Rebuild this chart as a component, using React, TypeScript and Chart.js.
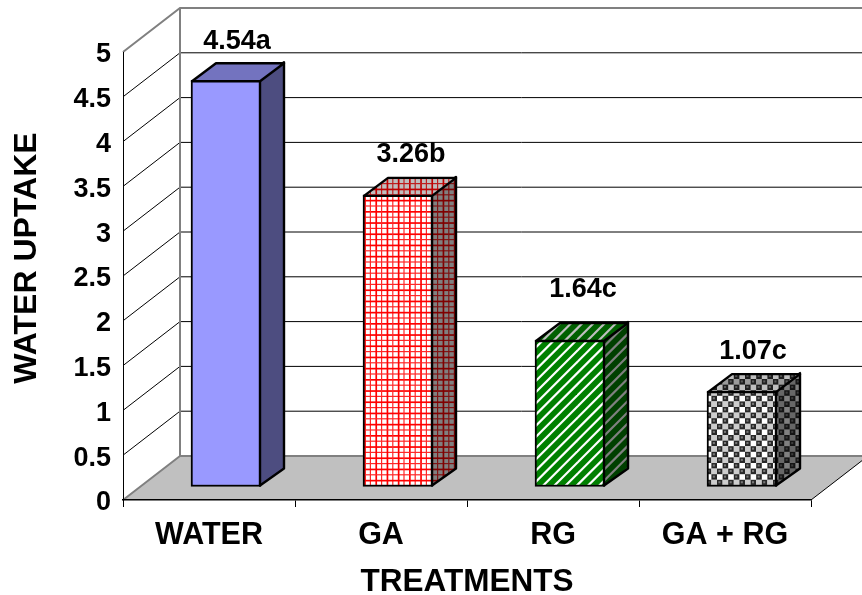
import React, { useEffect, useRef } from "react";
import { Chart, registerables } from "chart.js";

Chart.register(...registerables);

const categories = ["WATER", "GA", "RG", "GA + RG"];
const uptake = [4.54, 3.26, 1.64, 1.07];
const valueLabels = ["4.54a", "3.26b", "1.64c", "1.07c"];
const labelLift = [39, 40, 51, 40];
const labelShift = [11, 13, 13, 11];
const yTickValues = [0, 0.5, 1, 1.5, 2, 2.5, 3, 3.5, 4, 4.5, 5];

const FONT = '"Liberation Sans", Arial, sans-serif';

// Projection of the box: how far the back wall sits behind the front plane.
const WALL_DX = 57;
const WALL_DY = -44;
const BAR_INSET_X = 17;
const BAR_INSET_Y = -13;
const BAR_DX = 24;
const BAR_DY = -18;

type Rgb = [number, number, number];
const shade = (c: Rgb, k: number) =>
  `rgb(${Math.round(c[0] * k)},${Math.round(c[1] * k)},${Math.round(c[2] * k)})`;

// Fill tiles: an 8-unit cell enlarged 1.4 times, repeated 5 times so the tile is whole pixels.
const CELL = 8;
const CELL_SCALE = 1.4;
const CELL_REPEAT = 5;
const SPAN = CELL * CELL_REPEAT;

type Painter = (g: CanvasRenderingContext2D, k: number) => void;

const paintGrid: Painter = (g, k) => {
  g.fillStyle = shade([255, 255, 255], k);
  g.fillRect(0, 0, SPAN, SPAN);
  for (let i = 0; i < CELL_REPEAT; i++) {
    const p = i * CELL;
    g.fillStyle = shade([255, 40, 40], k);
    g.fillRect(p + 4, 0, 0.85, SPAN);
    g.fillRect(0, p + 4, SPAN, 0.85);
    g.fillStyle = shade([255, 0, 0], k);
    g.fillRect(p, 0, 1.2, SPAN);
    g.fillRect(0, p, SPAN, 1.2);
  }
};

const paintStripes: Painter = (g, k) => {
  g.fillStyle = shade([255, 255, 255], k);
  g.fillRect(0, 0, SPAN, SPAN);
  g.strokeStyle = shade([0, 128, 0], k);
  g.lineWidth = 4.1;
  for (let i = -SPAN; i <= SPAN * 3; i += CELL) {
    g.beginPath();
    g.moveTo(i - SPAN * 2, SPAN * 2);
    g.lineTo(i + SPAN * 2, -SPAN * 2);
    g.stroke();
  }
};

const paintChecker: Painter = (g, k) => {
  g.fillStyle = shade([255, 255, 255], k);
  g.fillRect(0, 0, SPAN, SPAN);
  for (let row = 0; row < CELL_REPEAT; row++) {
    for (let col = 0; col < CELL_REPEAT; col++) {
      const px = col * CELL;
      const py = row * CELL;
      g.fillStyle = shade([205, 205, 205], k);
      g.fillRect(px, py, 4, 4);
      g.fillStyle = shade([40, 40, 40], k);
      g.fillRect(px + 4, py, 4, 4);
      g.fillRect(px, py + 4, 4, 4);
      g.fillStyle = shade([120, 120, 120], k);
      g.fillRect(px + 5, py + 1, 1.5, 1.5);
      g.fillRect(px + 1, py + 5, 1.5, 1.5);
    }
  }
};

function makePattern(ctx: CanvasRenderingContext2D, paint: Painter, k: number) {
  const tile = document.createElement("canvas");
  tile.width = tile.height = Math.round(SPAN * CELL_SCALE);
  const g = tile.getContext("2d") as CanvasRenderingContext2D;
  g.scale(CELL_SCALE, CELL_SCALE);
  paint(g, k);
  return ctx.createPattern(tile, "repeat") as CanvasPattern;
}

const solidBlue: Rgb = [153, 153, 255];

function faceFills(ctx: CanvasRenderingContext2D, k: number) {
  return [
    shade(solidBlue, k),
    makePattern(ctx, paintGrid, k),
    makePattern(ctx, paintStripes, k),
    makePattern(ctx, paintChecker, k),
  ];
}

const boxPlugin = {
  id: "box3d",
  beforeDraw(chart: any) {
    const { ctx, scales } = chart;
    const y = scales.y;
    const x = scales.x;
    const floor = y.getPixelForValue(0);
    const ceil = y.getPixelForValue(5);
    const left = x.left;
    const right = x.right;
    ctx.save();
    // floor
    ctx.fillStyle = "#c0c0c0";
    ctx.beginPath();
    ctx.moveTo(left, floor);
    ctx.lineTo(left + WALL_DX, floor + WALL_DY);
    ctx.lineTo(right + WALL_DX, floor + WALL_DY);
    ctx.lineTo(right, floor);
    ctx.closePath();
    ctx.fill();

    // gridlines run along the side wall and across the back wall
    ctx.strokeStyle = "#000";
    ctx.lineWidth = 1;
    for (const v of yTickValues) {
      if (v === 0 || v === 5) continue;
      const py = y.getPixelForValue(v);
      ctx.beginPath();
      ctx.moveTo(left, py);
      ctx.lineTo(left + WALL_DX, py + WALL_DY);
      ctx.lineTo(right + WALL_DX, py + WALL_DY);
      ctx.stroke();
    }
    ctx.beginPath();
    ctx.moveTo(right, floor);
    ctx.lineTo(right + WALL_DX, floor + WALL_DY);
    ctx.stroke();

    // outer frame of the walls
    ctx.strokeStyle = "#808080";
    ctx.lineWidth = 2;
    ctx.beginPath();
    ctx.moveTo(left, ceil);
    ctx.lineTo(left + WALL_DX, ceil + WALL_DY);
    ctx.lineTo(right + WALL_DX, ceil + WALL_DY);
    ctx.moveTo(left + WALL_DX, ceil + WALL_DY);
    ctx.lineTo(left + WALL_DX, floor + WALL_DY);
    ctx.lineTo(right + WALL_DX, floor + WALL_DY);
    ctx.moveTo(left, floor);
    ctx.lineTo(left + WALL_DX, floor + WALL_DY);
    ctx.stroke();
    ctx.restore();
  },
  beforeDatasetsDraw(chart: any) {
    chart.ctx.save();
    chart.ctx.translate(BAR_INSET_X, BAR_INSET_Y);
  },
  afterDatasetsDraw(chart: any) {
    const { ctx } = chart;
    const tops = faceFills(ctx, 0.75);
    const sides = faceFills(ctx, 0.5);
    ctx.strokeStyle = "#000";
    ctx.lineWidth = 2.4;
    ctx.lineJoin = "round";
    chart.getDatasetMeta(0).data.forEach((bar: any, i: number) => {
      const r = bar.x + bar.width / 2;
      const l = bar.x - bar.width / 2;
      const t = bar.y;
      const b = bar.base;
      ctx.fillStyle = sides[i];
      ctx.beginPath();
      ctx.moveTo(r - 1, t);
      ctx.lineTo(r - 1 + BAR_DX, t + BAR_DY);
      ctx.lineTo(r - 1 + BAR_DX, b + BAR_DY);
      ctx.lineTo(r - 1, b - 1);
      ctx.closePath();
      ctx.fill();
      ctx.stroke();
      ctx.fillStyle = tops[i];
      ctx.beginPath();
      ctx.moveTo(l + 1, t + 1);
      ctx.lineTo(l + 1 + BAR_DX, t + 1 + BAR_DY);
      ctx.lineTo(r - 1 + BAR_DX, t + 1 + BAR_DY);
      ctx.lineTo(r - 1, t + 1);
      ctx.closePath();
      ctx.fill();
      ctx.stroke();
    });
    ctx.restore();

    // value captions and the vertical axis title
    ctx.save();
    ctx.fillStyle = "#000";
    ctx.font = `bold 27px ${FONT}`;
    ctx.textAlign = "center";
    ctx.textBaseline = "middle";
    chart.getDatasetMeta(0).data.forEach((bar: any, i: number) => {
      ctx.fillText(
        valueLabels[i],
        bar.x + BAR_INSET_X + labelShift[i],
        bar.y + BAR_INSET_Y - labelLift[i]
      );
    });
    ctx.translate(27, 258);
    ctx.rotate(-Math.PI / 2);
    ctx.font = `bold 32px ${FONT}`;
    ctx.fillText("WATER UPTAKE", 0, 0);
    ctx.restore();
  },
};

export default function App() {
  const ref = useRef<HTMLCanvasElement | null>(null);
  useEffect(() => {
    const canvas = ref.current as HTMLCanvasElement;
    const ctx = canvas.getContext("2d") as CanvasRenderingContext2D;
    const chart = new Chart(canvas, {
      type: "bar",
      data: {
        labels: categories,
        datasets: [
          {
            data: uptake,
            backgroundColor: faceFills(ctx, 1),
            borderColor: "#000",
            borderWidth: 2,
            borderSkipped: false,
            barThickness: 70,
          },
        ],
      },
      options: {
        responsive: false,
        animation: false,
        layout: { padding: { top: 52, right: 51 } },
        plugins: { legend: { display: false }, tooltip: { enabled: false } },
        scales: {
          x: {
            afterFit: (s: any) => {
              s.height = 95;
            },
            grid: { drawOnChartArea: false, color: "#000", tickLength: 7, lineWidth: 1 },
            border: { color: "#000", width: 1.5 },
            ticks: {
              color: "#000",
              font: { family: FONT, weight: "bold", size: 30.5 },
              padding: 10,
              maxRotation: 0,
            },
            title: {
              display: true,
              text: "TREATMENTS",
              color: "#000",
              font: { family: FONT, weight: "bold", size: 31.5, lineHeight: 1 },
              padding: { top: 0, bottom: -3 },
            },
          },
          y: {
            min: 0,
            max: 5,
            afterFit: (s: any) => {
              s.width = 123;
            },
            afterBuildTicks: (s: any) => {
              s.ticks = yTickValues.map((value) => ({ value }));
            },
            afterUpdate: (s: any) => {
              // Liberation's optical centre sits high: nudge the tick text onto its gridline.
              if (s.$nudged) return;
              s.$nudged = true;
              const drawLabels = s.drawLabels;
              s.drawLabels = function (area: any) {
                s.ctx.save();
                s.ctx.translate(0, 3);
                drawLabels.call(s, area);
                s.ctx.restore();
              };
            },
            grid: { drawOnChartArea: false, drawTicks: false },
            border: { color: "#000", width: 1 },
            ticks: {
              color: "#000",
              font: { family: FONT, weight: "bold", size: 27 },
              padding: 12,
              callback: (v: any) => String(v),
            },
          },
        },
      },
      plugins: [boxPlugin],
    } as any);
    return () => chart.destroy();
  }, []);
  return (
    <div style={{ position: "absolute", left: 0, top: 0, width: 862, height: 595 }}>
      <canvas ref={ref} width={862} height={595} style={{ display: "block" }} />
    </div>
  );
}
